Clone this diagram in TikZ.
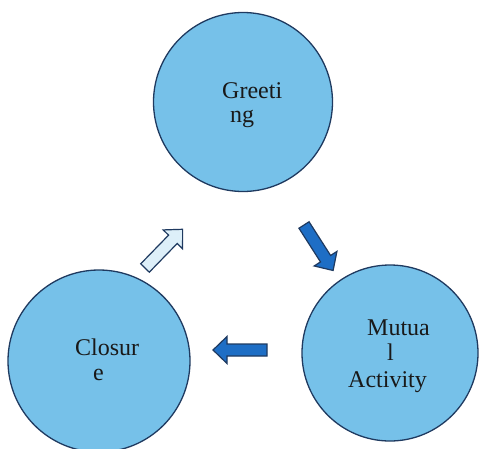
\documentclass[tikz,border=0pt]{standalone}
\usepackage{fontspec}
\setmainfont{Liberation Serif}
\usetikzlibrary{calc}
\definecolor{CircFill}{HTML}{76C1E9}
\definecolor{Navy}{HTML}{1F3A60}
\definecolor{ArrDark}{HTML}{1E6EC5}
\definecolor{ArrLight}{HTML}{DDEFF9}

\tikzset{
    stage/.style={circle, draw=Navy, fill=CircFill, line width=1.3pt, minimum size=#1, inner sep=0pt},
    word/.style={anchor=base west, inner sep=0pt, font=\fontsize{24}{26}\selectfont, text=black!90},
    blockarrow/.pic={
        \draw[pic actions, line width=1.2pt] (0,-6) -- (40,-6) -- (40,-13.5) -- (54,0) -- (40,13.5) -- (40,6) -- (0,6) -- cycle;
    }
}

\begin{document}
\begin{tikzpicture}[x=1pt, y=-1pt]
    % === FRAME ===
    \useasboundingbox (0,0) rectangle (480,448);
    \clip (0,0) rectangle (480,448);

    % === STAGES ===
    \node[stage=179pt] (greeting) at (243,102) {};
    \node[stage=176pt] (mutual) at (390,353) {};
    \node[stage=182pt] (closure) at (99,361) {};

    % Labels (broken as in the original text boxes)
    \node[word] (greetA) at (222,98) {Greeti};
    \node[word] (greetB) at (230,122) {ng};

    \node[word] (mutualA) at (367,335) {Mutua};
    \node[word] (mutualB) at (387,360) {l};
    \node[word] (mutualC) at (348,387) {Activity};

    \node[word] (closureA) at (75,355) {Closur};
    \node[word] (closureB) at (93,380) {e};

    % === CYCLE ARROWS ===
    \coordinate (TailDown) at (304,225);
    \coordinate (TailLeft) at (267,350);
    \coordinate (TailUp) at (145,268);

    \pic[draw=Navy, fill=ArrDark, rotate=-57.4] at (TailDown) {blockarrow};
    \pic[draw=Navy, fill=ArrDark, rotate=180] at (TailLeft) {blockarrow};
    \pic[draw=Navy, fill=ArrLight, rotate=45.8] at (TailUp) {blockarrow};
\end{tikzpicture}
\end{document}
